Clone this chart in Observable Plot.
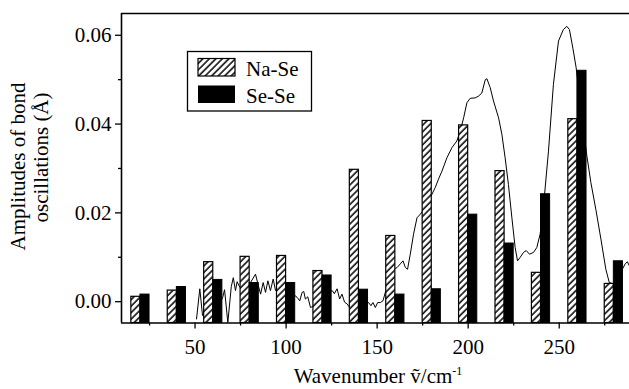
<!DOCTYPE html>
<html>
<head>
<meta charset="utf-8">
<script src="https://cdn.jsdelivr.net/npm/d3@7"></script>
<script src="https://cdn.jsdelivr.net/npm/@observablehq/plot@0.6"></script>
<style>
  html, body { margin: 0; padding: 0; background: white; }
  #chart { width: 629px; height: 389px; overflow: hidden; }
  #chart svg, #chart svg text { font-family: 'Liberation Serif', 'Times New Roman', serif !important; }
</style>
</head>
<body>
<div id="chart"></div>
<script>
// ---- data ----
const wavenumbers = [20, 40, 60, 80, 100, 120, 140, 160, 180, 200, 220, 240, 260, 280];
const naSe = [0.0011, 0.0025, 0.0089, 0.0101, 0.0103, 0.0069, 0.0297, 0.0148, 0.0407, 0.0397, 0.0294, 0.0065, 0.0411, 0.0040];
const seSe = [0.0016, 0.0033, 0.0049, 0.0042, 0.0042, 0.0059, 0.0027, 0.0016, 0.0028, 0.0196, 0.0131, 0.0242, 0.0520, 0.0091];

const spectrumX = [50.8, 52.6, 54.1, 57, 60, 63, 65.2, 66.2, 68.0, 69.9, 71.0, 72.2, 73.1, 74.1, 77, 80, 83.2, 84.5, 86, 87.4, 88.7, 90, 91.4, 92.9, 94.2, 97, 100, 103, 106, 107.5, 108.8, 109.7, 110.6, 111.9, 113.4, 114.6, 118, 122, 125.3, 126.5, 128, 129.4, 130.7, 132.1, 133.5, 134.9, 138, 142, 145.3, 146.6, 147.7, 149, 150.3, 151.8, 153.2, 154.5, 155.8, 159.1, 161, 162.7, 164.2, 165.5, 166.7, 168.2, 170, 171.9, 173.7, 176.4, 178.3, 180.1, 181.9, 183.7, 185.6, 188.3, 191.1, 193.8, 195.6, 197.5, 199.3, 201.1, 203.9, 205.7, 207.5, 209.4, 210.3, 212.1, 213.9, 216.7, 218.5, 220.3, 222.1, 224, 225.8, 227.1, 228.6, 230.4, 231.9, 233.7, 235.9, 237.7, 239.5, 241.3, 244.1, 246.8, 249.6, 252.3, 254.2, 255.6, 257.5, 259.3, 262, 265.2, 267.4, 270.1, 272.9, 275.6, 277.5, 280, 283, 286.2, 287.4, 288.5];
const spectrumY = [-0.0039, 0.0029, -0.0031, -0.0015, 0.001, -0.001, 0.001, 0.0027, -0.0047, 0.0034, 0.0054, 0.0025, 0.0045, 0.0036, 0.002, 0.004, 0.0062, 0.004, 0.0017, 0.0043, 0.0021, 0.0047, 0.0025, 0.0051, 0.0025, 0.003, 0.002, 0.002, 0.001, 0.0002, 0.0021, 0.0023, 0.0006, 0.0011, -0.0013, -0.0011, 0.0, 0.002, 0.0025, 0.0018, 0.0029, 0.0006, 0.0017, -0.0001, -0.0005, -0.0013, -0.001, -0.0005, -0.0002, -0.0009, -0.0002, -0.0013, -0.0002, -0.0002, 0.0002, 0.0021, 0.0032, 0.0073, 0.0077, 0.0085, 0.0092, 0.0077, 0.0073, 0.0107, 0.0152, 0.0189, 0.0197, 0.0212, 0.0227, 0.0242, 0.0257, 0.0276, 0.0294, 0.0324, 0.0347, 0.0362, 0.0384, 0.0414, 0.0448, 0.0458, 0.0459, 0.0463, 0.047, 0.05, 0.0502, 0.0482, 0.0452, 0.0414, 0.0377, 0.0324, 0.0264, 0.0189, 0.0122, 0.0092, 0.01, 0.0111, 0.0115, 0.0107, 0.0111, 0.0122, 0.0152, 0.0212, 0.0339, 0.0489, 0.0587, 0.0613, 0.062, 0.0613, 0.0571, 0.0527, 0.043, 0.0328, 0.0268, 0.0208, 0.0141, 0.0073, 0.0043, 0.004, 0.006, 0.0085, 0.009, 0.0081];

const xTicks = [50, 100, 150, 200, 250];
const xMinorTicks = [25, 75, 125, 175, 225, 275];
const yTicks = [0, 0.02, 0.04, 0.06];
const yMinorTicks = [0.01, 0.03, 0.05];
const seriesNames = ["Na-Se", "Se-Se"];

// ---- layout constants ----
const xDomain = [9.6, 288.6];
const yDomain = [-0.0048, 0.0649];
const barW = 5;
const FONT = "Liberation Serif";

const bars = wavenumbers.map((w, i) => ({w, naSe: naSe[i], seSe: seSe[i]}));
const spectrum = spectrumX.map((x, i) => ({x, y: spectrumY[i]}));

const plot = Plot.plot({
  width: 629,
  height: 389,
  marginLeft: 121,
  marginRight: 0,
  marginTop: 13,
  marginBottom: 66.5,
  style: {fontFamily: FONT, fontSize: "21px", color: "black", background: "white", overflow: "visible"},
  x: {domain: xDomain, label: null},
  y: {domain: yDomain, label: null},
  marks: [
    Plot.line(spectrum, {x: "x", y: "y", stroke: "black", strokeWidth: 1, curve: "linear"}),
    Plot.rect(bars, {x1: d => d.w - barW, x2: d => d.w, y1: () => yDomain[0], y2: "naSe", fill: "url(#hatch)", stroke: "black", strokeWidth: 1.2}),
    Plot.rect(bars, {x1: d => d.w, x2: d => d.w + barW, y1: () => yDomain[0], y2: "seSe", fill: "black", stroke: "black", strokeWidth: 1}),
    Plot.axisX({ticks: xTicks, tickSize: 6, tickPadding: 10, strokeWidth: 1.3, label: null, fontSize: 21, fontFamily: FONT}),
    Plot.axisX({ticks: xMinorTicks, tickSize: 3, tickFormat: () => "", strokeWidth: 1.3, label: null}),
    Plot.axisY({ticks: yTicks, tickSize: 6, tickPadding: 4, strokeWidth: 1.3, tickFormat: d3.format(".2f"), label: null, fontSize: 21, fontFamily: FONT}),
    Plot.axisY({ticks: yMinorTicks, tickSize: 3, tickFormat: () => "", strokeWidth: 1.3, label: null}),
    Plot.ruleY([yDomain[0]], {stroke: "black", strokeWidth: 1.6}),
    Plot.ruleY([yDomain[1]], {stroke: "black", strokeWidth: 1.6}),
    Plot.ruleX([xDomain[0]], {stroke: "black", strokeWidth: 1.6})
  ]
});

document.getElementById("chart").appendChild(plot);

const svg = d3.select(plot);
// hatch pattern
const defs = svg.insert("defs", ":first-child");
const pat = defs.append("pattern")
  .attr("id", "hatch")
  .attr("patternUnits", "userSpaceOnUse")
  .attr("width", 4.6).attr("height", 4.6)
  .attr("patternTransform", "rotate(45)");
pat.append("rect").attr("width", 4.6).attr("height", 4.6).attr("fill", "white");
pat.append("line").attr("x1", 1).attr("y1", 0).attr("x2", 1).attr("y2", 4.6)
  .attr("stroke", "black").attr("stroke-width", 1.5);

// legend
const lg = svg.append("g").attr("font-family", FONT).attr("font-size", 21).attr("text-anchor", "start");
lg.append("rect").attr("x", 187.5).attr("y", 51.5).attr("width", 124).attr("height", 59.5)
  .attr("fill", "white").attr("stroke", "black").attr("stroke-width", 1.3);
lg.append("rect").attr("x", 198).attr("y", 58.5).attr("width", 37).attr("height", 17.5)
  .attr("fill", "url(#hatch)").attr("stroke", "black").attr("stroke-width", 1.2);
lg.append("rect").attr("x", 198).attr("y", 85.5).attr("width", 37).attr("height", 17.5)
  .attr("fill", "black");
lg.append("text").attr("x", 246).attr("y", 76).text(seriesNames[0]);
lg.append("text").attr("x", 246).attr("y", 103).text(seriesNames[1]);

// axis titles
const xt = svg.append("text").attr("x", 378).attr("y", 383).attr("text-anchor", "middle")
  .attr("font-family", FONT).attr("font-size", 21);
xt.append("tspan").text("Wavenumber \u1E7D/cm");
xt.append("tspan").attr("dy", -8).attr("font-size", 12).text("-1");

const yt = svg.append("g").attr("font-family", FONT).attr("font-size", 21).attr("text-anchor", "middle");
yt.append("text").attr("transform", "translate(25,166.5) rotate(-90)").text("Amplitudes of bond");
yt.append("text").attr("transform", "translate(48,157.5) rotate(-90)").text("oscillations (\u00C5)");
</script>
</body>
</html>
